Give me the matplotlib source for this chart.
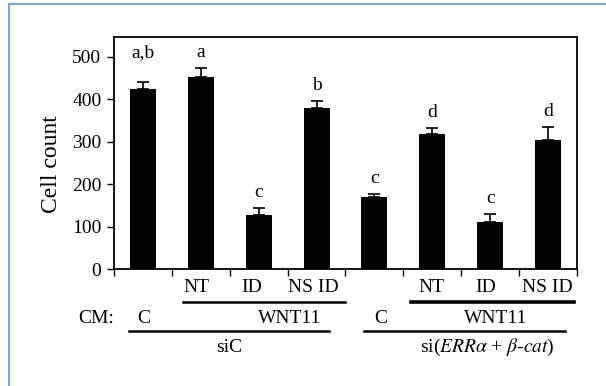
import numpy as np
import matplotlib
matplotlib.use('Agg')
import matplotlib.pyplot as plt
from matplotlib.lines import Line2D
from matplotlib.transforms import blended_transform_factory

plt.rcParams['font.family'] = ['Liberation Serif', 'DejaVu Serif']
plt.rcParams['mathtext.fontset'] = 'stix'

# data
counts = [424, 453, 127, 380, 170, 318, 112, 304]
errors = [18, 20, 18, 17, 8, 15, 18, 32]
letters = ['a,b', 'a', 'c', 'b', 'c', 'd', 'c', 'd']
treat_labels = ['', 'NT', 'ID', 'NS ID', '', 'NT', 'ID', 'NS ID']
yticks = [0, 100, 200, 300, 400, 500]

fig = plt.figure(figsize=(6.06, 3.86), dpi=100)
ax = fig.add_axes([0.1881, 0.3031, 0.7640, 0.6010])

x = np.arange(len(counts)) + 0.5
ax.bar(x, counts, width=0.45, color='black')
ax.errorbar(x, counts, yerr=[np.zeros(len(errors)), errors], fmt='none',
            ecolor='black', elinewidth=1.2, capsize=4.5, capthick=1.2)

# significance letters
for i, (xi, c, e, lab) in enumerate(zip(x, counts, errors, letters)):
    off = 20 if i == 0 else 7
    ax.annotate(lab, (xi, c + e), xytext=(0, off), textcoords='offset pixels',
                ha='center', va='bottom', fontsize=14)

ax.set_xlim(0, 8)
ax.set_ylim(0, 547)
ax.set_yticks(yticks)
ax.set_xticks(np.arange(0, 9))
ax.set_xticklabels([])
ax.tick_params(axis='both', direction='out', length=5, width=1, labelsize=14)
ax.tick_params(axis='y', pad=4)
for s in ax.spines.values():
    s.set_linewidth(1.3)
ax.set_ylabel('Cell count', fontsize=17, va='center')
ax.yaxis.set_label_coords(-0.134, 0.45)

# labels under the axis
tr = blended_transform_factory(ax.transData, fig.transFigure)
lab_x = [0, 1.43, 2.38, 3.45, 0, 5.49, 6.42, 7.48]
for xi, t in zip(lab_x, treat_labels):
    if t:
        fig.text(xi, 0.2539, t, transform=tr, ha='center', va='center', fontsize=14)

fig.add_artist(Line2D([1.19, 4.0], [0.2176, 0.2176], transform=tr, color='black', lw=1.8))
fig.add_artist(Line2D([5.13, 7.94], [0.2176, 0.2176], transform=tr, color='black', lw=2.6))

fig.text(0, 0.1736, 'CM:', transform=tr, ha='right', va='center', fontsize=14)
fig.text(0.40, 0.1736, 'C', transform=tr, ha='left', va='center', fontsize=14)
fig.text(2.49, 0.1736, 'WNT11', transform=tr, ha='left', va='center', fontsize=14)
fig.text(4.49, 0.1736, 'C', transform=tr, ha='left', va='center', fontsize=14)
fig.text(6.6, 0.1736, 'WNT11', transform=tr, ha='center', va='center', fontsize=14)

fig.add_artist(Line2D([0.26, 3.71], [0.1425, 0.1425], transform=tr, color='black', lw=1.8))
fig.add_artist(Line2D([4.32, 7.79], [0.1425, 0.1425], transform=tr, color='black', lw=1.8))

fig.text(1.99, 0.1010, 'siC', transform=tr, ha='center', va='center', fontsize=14)
fig.text(6.45, 0.1010, r'si($ERR\alpha$ + $\beta$-$cat$)', transform=tr,
         ha='center', va='center', fontsize=14)

# light blue frame around the panel
fig.add_artist(Line2D([9 / 606, 1], [1 - 4 / 386, 1 - 4 / 386], transform=fig.transFigure,
                      color='#7ba7d7', lw=1.5))
fig.add_artist(Line2D([9 / 606, 9 / 606], [0, 1 - 4 / 386], transform=fig.transFigure,
                      color='#7ba7d7', lw=1.5))

fig.savefig('out.png', dpi=100)
